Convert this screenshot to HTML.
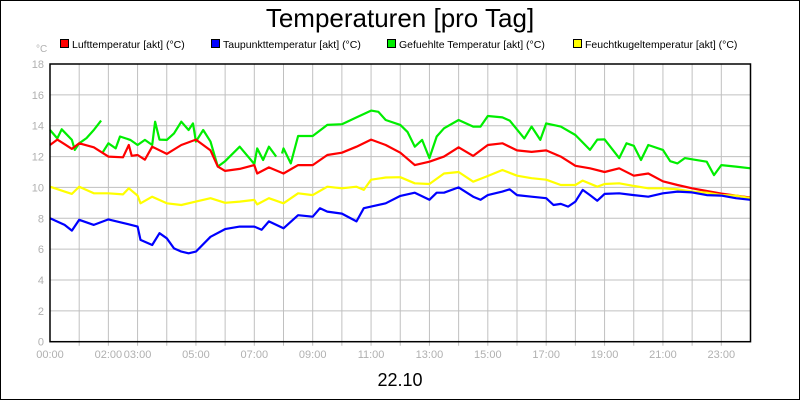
<!DOCTYPE html>
<html><head><meta charset="utf-8"><style>
html,body{margin:0;padding:0;background:#fff}
svg{display:block}
text{font-family:"Liberation Sans",sans-serif}
</style></head><body>
<svg id="chart" width="800" height="400" viewBox="0 0 800 400">
<rect x="0.5" y="0.5" width="799" height="399" fill="#fff" stroke="#000"/>
<text x="400" y="27" text-anchor="middle" font-size="26">Temperaturen [pro Tag]</text>
<text x="36" y="52" font-size="10" fill="#b0b0b0">°C</text>
<g id="legend"></g>
<g id="grid"></g>
<g id="axes"></g>
<g id="series"></g>
<rect x="50" y="64" width="700.5" height="277.7" fill="none" stroke="#000" stroke-width="1.5"/>
<text x="400" y="386" text-anchor="middle" font-size="18">22.10</text>
</svg>
<script>
const yTicks=[0,2,4,6,8,10,12,14,16,18];
const xLabels=["00:00","02:00","03:00","05:00","07:00","09:00","11:00","13:00","15:00","17:00","19:00","21:00","23:00"];
const xLabelHours=[0,2,3,5,7,9,11,13,15,17,19,21,23];
const seriesNames=["Lufttemperatur [akt] (°C)","Taupunkttemperatur [akt] (°C)","Gefuehlte Temperatur [akt] (°C)","Feuchtkugeltemperatur [akt] (°C)"];
const seriesColors=["#ff0000","#0000ff","#00ee00","#ffff00"];
const redT=[0,0.25,0.5,0.75,1,1.5,2,2.5,2.7,2.8,3,3.25,3.5,4,4.5,5,5.5,5.75,6,6.5,7,7.1,7.5,8,8.5,9,9.5,10,10.5,11,11.5,12,12.5,13,13.5,14,14.5,15,15.5,16,16.5,17,17.5,18,18.5,19,19.5,20,20.5,21,21.5,22,22.5,23,23.5,24];
const redV=[12.75,13.1,12.8,12.5,12.86,12.6,12.0,11.95,12.75,12.05,12.1,11.8,12.64,12.17,12.75,13.1,12.4,11.35,11.07,11.2,11.45,10.9,11.3,10.9,11.45,11.45,12.1,12.25,12.64,13.1,12.75,12.25,11.45,11.67,12.0,12.6,12.04,12.75,12.86,12.4,12.3,12.4,12.0,11.4,11.24,11.0,11.24,10.76,10.9,10.4,10.16,9.94,9.77,9.6,9.47,9.34];
const blueT=[0,0.5,0.75,1,1.5,2,2.5,3,3.1,3.5,3.75,4,4.25,4.5,4.75,5,5.5,6,6.5,7,7.25,7.5,8,8.5,9,9.25,9.5,10,10.5,10.75,11,11.5,12,12.5,13,13.25,13.5,14,14.5,14.75,15,15.5,15.75,16,16.5,17,17.25,17.5,17.75,18,18.25,18.5,18.75,19,19.5,20,20.5,21,21.5,22,22.5,23,23.5,24];
const blueV=[8.0,7.57,7.2,7.9,7.57,7.93,7.7,7.46,6.6,6.27,7.03,6.7,6.05,5.84,5.73,5.84,6.8,7.3,7.46,7.46,7.25,7.8,7.35,8.2,8.1,8.65,8.43,8.3,7.8,8.65,8.76,8.97,9.45,9.66,9.2,9.66,9.66,10.0,9.4,9.2,9.5,9.73,9.88,9.5,9.4,9.3,8.86,8.93,8.76,9.08,9.84,9.5,9.14,9.58,9.62,9.5,9.4,9.62,9.73,9.68,9.5,9.47,9.3,9.2];
const greenT=[0,0.25,0.4,0.75,0.85,1,1.25,1.5,1.75,1.71,1.8,2,2.25,2.4,2.75,3,3.25,3.5,3.6,3.75,4,4.25,4.5,4.75,4.9,5,5.25,5.5,5.75,6,6.5,7,7.1,7.3,7.5,7.75,7.8,7.95,8,8.25,8.5,9,9.5,10,10.5,11,11.25,11.5,12,12.25,12.5,12.75,13,13.25,13.5,14,14.5,14.75,15,15.5,15.75,16.25,16.5,16.8,17,17.5,18,18.5,18.75,19,19.5,19.75,20,20.25,20.5,21,21.25,21.5,21.75,22,22.5,22.75,23,23.5,24];
const greenV=[13.72,13.18,13.77,13.08,12.43,12.86,13.2,13.72,14.33,null,12.25,12.86,12.53,13.3,13.08,12.75,13.08,12.75,14.26,13.1,13.08,13.5,14.26,13.72,14.15,12.97,13.72,12.97,11.35,11.7,12.64,11.52,12.53,11.78,12.64,12.0,null,12.2,12.53,11.56,13.33,13.33,14.05,14.1,14.54,14.98,14.9,14.37,14.05,13.6,12.64,13.08,11.9,13.3,13.83,14.37,13.94,13.94,14.63,14.54,14.33,13.18,13.94,13.08,14.15,13.94,13.4,12.43,13.1,13.11,11.9,12.86,12.7,11.78,12.75,12.43,11.7,11.56,11.9,11.82,11.67,10.8,11.45,11.35,11.24];
const yellowT=[0,0.5,0.75,1,1.5,2,2.5,2.7,3,3.1,3.5,4,4.5,5,5.5,6,6.5,7,7.1,7.5,8,8.5,9,9.5,10,10.5,10.75,11,11.5,12,12.5,13,13.5,14,14.5,15,15.5,16,16.5,17,17.5,18,18.25,18.75,19,19.5,20,20.5,21,21.5,22,22.5,23,23.5,24];
const yellowV=[10.05,9.73,9.58,10.05,9.62,9.62,9.55,9.94,9.47,8.97,9.4,8.97,8.86,9.08,9.3,9.0,9.08,9.19,8.9,9.3,8.97,9.62,9.5,10.05,9.94,10.05,9.84,10.5,10.64,10.66,10.27,10.22,10.9,11.0,10.37,10.74,11.13,10.76,10.6,10.5,10.16,10.16,10.44,10.05,10.22,10.27,10.1,9.94,9.94,9.88,9.73,9.66,9.5,9.47,9.3];

const NS="http://www.w3.org/2000/svg";
const X0=50,X1=750.5,Y0=341.7,Y1=64;
function xs(h){return X0+(X1-X0)*h/24;}
function ys(v){return Y0-(Y0-Y1)*v/18;}
function mk(tag,attrs,parent){const e=document.createElementNS(NS,tag);for(const k in attrs)e.setAttribute(k,attrs[k]);parent.appendChild(e);return e;}
const grid=document.getElementById('grid'),axes=document.getElementById('axes'),ser=document.getElementById('series'),leg=document.getElementById('legend');
for(let h=1;h<24;h++){
  const l=mk('line',{x1:xs(h),x2:xs(h),y1:Y1,y2:Y0+4,stroke:'#c0c0c0','stroke-width':1},grid);
  
  
}
yTicks.forEach(v=>{
  if(v>0&&v<18){const l=mk('line',{x1:X0,x2:X1,y1:ys(v),y2:ys(v),stroke:'#c0c0c0','stroke-width':1},grid);
  
  }
  const t=mk('text',{x:44,y:ys(v)+4,'text-anchor':'end','font-size':11,fill:'#b0b0b0'},axes);
  t.textContent=v;
  
  
});
xLabels.forEach((s,i)=>{
  const t=mk('text',{x:xs(xLabelHours[i]),y:358,'text-anchor':'middle','font-size':11,fill:'#b0b0b0'},axes);
  t.textContent=s;
  
  
});
function draw(T,V,color,name){
  let d='',pen=false;
  for(let i=0;i<T.length;i++){
    if(V[i]==null){pen=false;continue;}
    d+=(pen?'L':'M')+xs(T[i]).toFixed(1)+' '+ys(V[i]).toFixed(1);pen=true;
  }
  const p=mk('path',{d:d,fill:'none',stroke:color,'stroke-width':2.2,'stroke-linejoin':'round'},ser);
  
  
}
draw(greenT,greenV,seriesColors[2],'gefuehlte-temperatur-line');
draw(redT,redV,seriesColors[0],'lufttemperatur-line');
draw(yellowT,yellowV,seriesColors[3],'feuchtkugeltemperatur-line');
draw(blueT,blueV,seriesColors[1],'taupunkttemperatur-line');
const legX=[60,211,387,573];
seriesNames.forEach((n,i)=>{
  const g=mk('g',{},leg);
  
  
  mk('rect',{x:legX[i]+0.5,y:39.5,width:8,height:8,fill:seriesColors[i],stroke:'#000'},g);
  const t=mk('text',{x:legX[i]+12,y:48,'font-size':10.5},g);
  t.textContent=n;
});
</script>
</body></html>
